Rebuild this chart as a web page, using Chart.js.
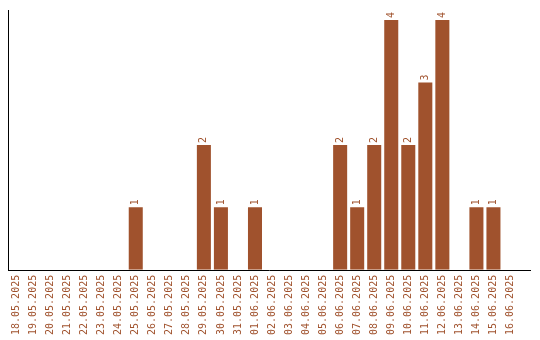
<!DOCTYPE html>
<html>
<head>
<meta charset="utf-8">
<script src="https://cdn.jsdelivr.net/npm/chart.js@4/dist/chart.umd.min.js"></script>
<style>
  html, body { margin: 0; padding: 0; background: #fff; }
  #chart { display: block; }
</style>
</head>
<body>
<canvas id="chart" width="540" height="340"></canvas>
<script>
  // daily counts, 18.05.2025 .. 16.06.2025
  const dates = [
    '18.05.2025', '19.05.2025', '20.05.2025', '21.05.2025', '22.05.2025',
    '23.05.2025', '24.05.2025', '25.05.2025', '26.05.2025', '27.05.2025',
    '28.05.2025', '29.05.2025', '30.05.2025', '31.05.2025', '01.06.2025',
    '02.06.2025', '03.06.2025', '04.06.2025', '05.06.2025', '06.06.2025',
    '07.06.2025', '08.06.2025', '09.06.2025', '10.06.2025', '11.06.2025',
    '12.06.2025', '13.06.2025', '14.06.2025', '15.06.2025', '16.06.2025'
  ];
  const counts = [
    0, 0, 0, 0, 0,
    0, 0, 1, 0, 0,
    0, 2, 1, 0, 1,
    0, 0, 0, 0, 2,
    1, 2, 4, 2, 3,
    4, 0, 1, 1, 0
  ];

  const BAR_COLOR = '#a0522d';
  const FONT = { family: '"DejaVu Sans Mono", monospace', size: 10 };

  // value above each non-empty bar, rotated like the tick labels
  const valueLabels = {
    id: 'valueLabels',
    afterDatasetsDraw(chart) {
      const ctx = chart.ctx;
      const meta = chart.getDatasetMeta(0);
      ctx.save();
      ctx.fillStyle = BAR_COLOR;
      ctx.font = FONT.size + 'px ' + FONT.family;
      ctx.textAlign = 'left';
      ctx.textBaseline = 'middle';
      meta.data.forEach((bar, i) => {
        if (!counts[i]) return;
        ctx.save();
        ctx.translate(bar.x, bar.y - 2);
        ctx.rotate(-Math.PI / 2);
        ctx.fillText(String(counts[i]), 0, 0);
        ctx.restore();
      });
      ctx.restore();
    }
  };

  // x axis line, drawn by hand because it runs past the last category
  const baseLine = {
    id: 'baseLine',
    afterDatasetsDraw(chart) {
      const a = chart.chartArea;
      const ctx = chart.ctx;
      const y = Math.round(a.bottom) + 0.5;
      ctx.save();
      ctx.strokeStyle = '#000';
      ctx.lineWidth = 1;
      ctx.beginPath();
      ctx.moveTo(Math.floor(a.left), y);
      ctx.lineTo(531, y);
      ctx.stroke();
      ctx.restore();
    }
  };

  new Chart(document.getElementById('chart').getContext('2d'), {
    type: 'bar',
    data: {
      labels: dates,
      datasets: [{
        data: counts,
        backgroundColor: BAR_COLOR,
        borderWidth: 0,
        categoryPercentage: 1,
        barPercentage: 14 / 17
      }]
    },
    options: {
      responsive: false,
      animation: false,
      layout: { padding: { top: 10, right: 21, left: 8, bottom: 0 } },
      plugins: {
        legend: { display: false },
        tooltip: { enabled: false }
      },
      scales: {
        x: {
          grid: { display: false, drawTicks: false },
          border: { display: false },
          ticks: {
            color: BAR_COLOR,
            font: FONT,
            minRotation: 90,
            maxRotation: 90,
            autoSkip: false,
            padding: 5
          }
        },
        y: {
          min: 0,
          max: 4.16,
          grid: { display: false, drawTicks: false },
          border: { display: true, color: '#000', width: 1 },
          ticks: { display: false }
        }
      }
    },
    plugins: [valueLabels, baseLine]
  });
</script>
</body>
</html>
